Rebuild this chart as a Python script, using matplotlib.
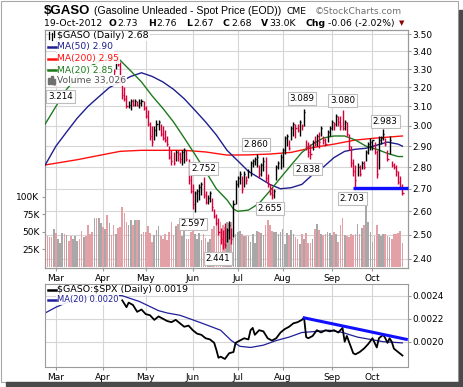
import numpy as np
import matplotlib
matplotlib.use("Agg")
import matplotlib.pyplot as plt
from matplotlib.patches import Rectangle
from matplotlib.lines import Line2D
from matplotlib.ticker import FixedLocator, NullLocator, FuncFormatter
from matplotlib.transforms import blended_transform_factory

W, H = 464, 387

# x axis = trading-day index, 0 = 1-Mar-2012, 162 = 19-Oct-2012
month_names = ['Mar', 'Apr', 'May', 'Jun', 'Jul', 'Aug', 'Sep', 'Oct']
month_start = [0, 22, 42, 64, 85, 106, 129, 148]

# lone early bar (the 3.214 low)
early_idx = -1
early_high, early_low, early_close = 3.235, 3.214, 3.22

# daily bars from index 27 to 162
first_bar = 27
bar_high = [3.30, 3.35, 3.38, 3.34, 3.24, 3.20, 3.16, 3.13, 3.14, 3.14, 3.14, 3.13, 3.14, 3.14,
            3.13, 3.10, 3.08, 3.02, 3.00, 3.00, 3.03, 3.03, 3.01, 3.00, 2.98, 2.95, 2.90, 2.88,
            2.87, 2.88, 2.88, 2.87, 2.88, 2.89, 2.88, 2.84, 2.77, 2.72, 2.69, 2.70, 2.72, 2.73,
            2.752, 2.69, 2.67, 2.69, 2.66, 2.61, 2.59, 2.57, 2.53, 2.52, 2.55, 2.53, 2.56, 2.53,
            2.65, 2.74, 2.76, 2.78, 2.76, 2.78, 2.76, 2.79, 2.83, 2.84, 2.85, 2.86, 2.81, 2.82,
            2.85, 2.85, 2.77, 2.72, 2.71, 2.70, 2.81, 2.83, 2.86, 2.89, 2.95, 2.96, 2.93, 3.00,
            3.02, 3.01, 3.01, 3.03, 3.01, 3.089, 2.93, 2.92, 2.91, 2.93, 2.95, 2.96, 2.97, 3.00,
            2.95, 2.94, 2.98, 3.00, 3.03, 3.02, 3.06, 3.05, 3.05, 3.080, 3.03, 3.02, 2.96, 2.90,
            2.84, 2.81, 2.82, 2.81, 2.83, 2.83, 2.88, 2.92, 2.94, 2.93, 2.92, 2.88, 2.95, 2.95,
            2.983, 2.94, 2.88, 2.95, 2.83, 2.82, 2.81, 2.78, 2.76, 2.72]
bar_low = [3.27, 3.30, 3.32, 3.22, 3.14, 3.13, 3.09, 3.09, 3.08, 3.10, 3.10, 3.10, 3.09, 3.10,
           3.08, 3.04, 3.00, 2.93, 2.90, 2.93, 2.95, 2.98, 2.95, 2.93, 2.92, 2.90, 2.84, 2.81,
           2.81, 2.83, 2.83, 2.82, 2.81, 2.82, 2.83, 2.72, 2.68, 2.61, 2.597, 2.64, 2.65, 2.67,
           2.66, 2.63, 2.63, 2.64, 2.60, 2.57, 2.54, 2.50, 2.46, 2.441, 2.445, 2.47, 2.48, 2.46,
           2.49, 2.63, 2.71, 2.72, 2.68, 2.71, 2.72, 2.75, 2.76, 2.80, 2.81, 2.80, 2.75, 2.76,
           2.78, 2.73, 2.71, 2.67, 2.655, 2.66, 2.74, 2.79, 2.79, 2.80, 2.86, 2.90, 2.88, 2.93,
           2.95, 2.94, 2.97, 2.95, 2.98, 3.00, 2.88, 2.85, 2.838, 2.88, 2.90, 2.90, 2.89, 2.95,
           2.91, 2.90, 2.92, 2.95, 2.98, 2.98, 3.00, 3.00, 2.98, 2.98, 2.98, 2.95, 2.88, 2.80,
           2.76, 2.703, 2.76, 2.76, 2.79, 2.79, 2.83, 2.86, 2.88, 2.88, 2.86, 2.75, 2.79, 2.91,
           2.93, 2.90, 2.83, 2.86, 2.80, 2.79, 2.76, 2.72, 2.70, 2.67]
bar_close = [3.29, 3.34, 3.33, 3.24, 3.16, 3.14, 3.10, 3.11, 3.13, 3.11, 3.13, 3.11, 3.12, 3.13,
             3.09, 3.05, 3.01, 2.95, 2.92, 2.98, 3.01, 3.02, 2.96, 2.94, 2.93, 2.91, 2.85, 2.83,
             2.82, 2.87, 2.86, 2.84, 2.87, 2.88, 2.84, 2.74, 2.69, 2.63, 2.68, 2.69, 2.71, 2.72,
             2.67, 2.64, 2.66, 2.68, 2.62, 2.58, 2.55, 2.51, 2.48, 2.46, 2.455, 2.52, 2.54, 2.48,
             2.63, 2.72, 2.75, 2.77, 2.70, 2.77, 2.74, 2.78, 2.82, 2.83, 2.84, 2.85, 2.77, 2.81,
             2.83, 2.75, 2.72, 2.68, 2.67, 2.69, 2.80, 2.82, 2.85, 2.88, 2.94, 2.95, 2.89, 2.99,
             3.01, 2.99, 2.98, 3.02, 3.00, 3.07, 2.90, 2.87, 2.86, 2.92, 2.91, 2.95, 2.92, 2.99,
             2.93, 2.91, 2.97, 2.99, 3.02, 3.01, 3.05, 3.02, 3.00, 2.99, 3.02, 2.96, 2.90, 2.82,
             2.78, 2.74, 2.80, 2.77, 2.82, 2.80, 2.87, 2.91, 2.92, 2.93, 2.87, 2.77, 2.93, 2.94,
             2.96, 2.91, 2.84, 2.93, 2.81, 2.80, 2.78, 2.73, 2.71, 2.68]

# moving averages
ma50_idx = [-5, 0, 5, 10, 15, 20, 25, 30, 35, 40, 45, 50, 55, 60, 65, 70, 75, 80, 85, 90,
            95, 100, 105, 110, 115, 120, 125, 130, 135, 140, 145, 150, 155, 160, 162]
ma50_val = [2.81, 2.90, 2.97, 3.04, 3.10, 3.15, 3.20, 3.23, 3.26, 3.28, 3.26, 3.23, 3.19, 3.14,
            3.08, 3.02, 2.955, 2.88, 2.83, 2.78, 2.75, 2.72, 2.70, 2.705, 2.72, 2.765, 2.80,
            2.845, 2.875, 2.885, 2.89, 2.905, 2.92, 2.91, 2.90]
ma200_idx = [-5, 10, 20, 30, 40, 50, 60, 70, 80, 90, 100, 110, 120, 130, 140, 150, 162]
ma200_val = [2.81, 2.835, 2.855, 2.875, 2.88, 2.88, 2.88, 2.872, 2.857, 2.858, 2.862, 2.87,
             2.893, 2.91, 2.93, 2.94, 2.95]
ma20_idx = [-5, 0, 5, 10, 15, 20, 25, 30, 35, 40, 45, 50, 55, 60, 65, 70, 75, 80, 83, 85, 90,
            95, 100, 105, 110, 115, 120, 125, 130, 135, 140, 145, 150, 155, 160, 162]
ma20_val = [3.01, 3.10, 3.19, 3.26, 3.31, 3.34, 3.36, 3.35, 3.29, 3.23, 3.155, 3.09, 3.02, 2.94,
            2.86, 2.78, 2.70, 2.65, 2.61, 2.60, 2.605, 2.635, 2.69, 2.75, 2.81, 2.87, 2.91, 2.94,
            2.95, 2.95, 2.93, 2.90, 2.885, 2.865, 2.85, 2.85]

# volume in thousands, index -5 to 162
vol_start = -5
volume = [45, 44, 42, 42, 53, 48, 40, 33, 48, 47, 45,
          37, 43, 39, 43, 37, 40, 51, 42, 44, 59, 47,
          50, 69, 69, 69, 62, 57, 53, 74, 62, 45, 59,
          47, 55, 57, 85, 76, 64, 59, 67, 59, 67, 66,
          67, 47, 50, 50, 58, 48, 35, 45, 52, 58, 44,
          39, 47, 38, 50, 63, 45, 58, 61, 59, 43, 55,
          39, 39, 50, 53, 47, 40, 48, 38, 47, 41, 35,
          39, 53, 58, 64, 62, 64, 60, 57, 64, 62,
          64, 52, 47, 50, 51, 47, 43, 44, 44, 35, 46,
          34, 51, 50, 48, 45, 59, 67, 59, 51, 49,
          50, 47, 50, 53, 32, 48, 45, 52, 47, 42, 40,
          32, 47, 39, 48, 34, 33, 40, 53, 61, 52,
          47, 45, 47, 50, 48, 45, 50, 47, 35, 59, 69,
          45, 43, 42, 47, 45, 47, 61, 47, 55, 59, 87,
          64, 50, 35, 43, 59, 47, 43, 47, 47, 43,
          42, 40, 47, 47, 48, 51, 34]
# up/down days for the volume bars before the price bars start (index -5 to 27)
early_vol_dir = "uddduduuududduuuddudddduduudududd"

# $GASO:$SPX ratio panel
ratio_idx = [31, 33, 34, 36, 38, 40, 42, 44, 46, 48, 50, 52, 54, 56, 58, 60, 62, 64, 66, 68,
             70, 72, 74, 75, 76, 77, 79, 81, 83, 84, 86, 88, 90, 91, 92, 93, 95, 97, 99, 101,
             103, 105, 107, 109, 111, 113, 115, 116, 117, 118, 120, 122, 124, 126, 128, 130,
             132, 134, 135, 136, 137, 139, 140, 142, 144, 146, 148, 149, 150, 151, 153, 154,
             155, 156, 157, 158, 160, 162]
ratio_val = [0.00236, 0.00230, 0.00234, 0.00232, 0.00226, 0.00228, 0.00224, 0.00223, 0.00219,
             0.00222, 0.00220, 0.00218, 0.00217, 0.00219, 0.00216, 0.00213, 0.00214, 0.00210,
             0.00207, 0.00206, 0.00203, 0.00202, 0.00199, 0.00193, 0.00186, 0.00187, 0.00185,
             0.00190, 0.00191, 0.00199, 0.00201, 0.00203, 0.00202, 0.00210, 0.00212, 0.00206,
             0.00210, 0.00209, 0.00203, 0.00201, 0.00203, 0.00208, 0.00211, 0.00213, 0.00216,
             0.00217, 0.00219, 0.00221, 0.00204, 0.00203, 0.00205, 0.00210, 0.00208, 0.00210,
             0.00209, 0.00210, 0.00208, 0.00212, 0.00200, 0.00205, 0.00200, 0.00190, 0.00189,
             0.00191, 0.00194, 0.00198, 0.00203, 0.00199, 0.00195, 0.00203, 0.00206, 0.00203,
             0.00199, 0.00203, 0.00200, 0.00194, 0.00191, 0.00188]
ratio_ma_idx = [-5, 0, 5, 10, 15, 20, 25, 31, 39, 48, 52, 58, 67, 77, 82, 86, 91, 97, 103,
                109, 115, 122, 128, 134, 141, 147, 153, 162]
ratio_ma_val = [0.00225, 0.00230, 0.00234, 0.00237, 0.00239, 0.00241, 0.00241, 0.00240,
                0.00235, 0.00227, 0.00225, 0.00223, 0.00217, 0.00210, 0.00201, 0.00196,
                0.00195, 0.00197, 0.00201, 0.00204, 0.00208, 0.00209, 0.00210, 0.00208,
                0.00204, 0.00202, 0.00200, 0.00199]

# hand-drawn lines on the chart
support_level = 2.703
support_from = 139
trend_idx = [115.4, 164.5]
trend_val = [0.00221, 0.002018]

# price annotations
label_idx = [-1, 69, 65, 78, 94, 101, 116, 119, 134, 140, 153]
label_price = [3.214, 2.752, 2.597, 2.441, 2.860, 2.655, 3.089, 2.838, 3.080, 2.703, 2.983]
label_offset = [(7, -12), (0, 9), (-2, -12), (-5, -10), (-1, 10), (-2, -10), (-2, 10),
                (-3, -10), (0, 10), (-3, -10), (2, 8)]

price_ticks = [2.40, 2.50, 2.60, 2.70, 2.80, 2.90, 3.00, 3.10, 3.20, 3.30, 3.40, 3.50]
vol_ticks = [25, 50, 75, 100]
ratio_ticks = [0.0020, 0.0022, 0.0024]

UP = '#000000'
DOWN = '#d8003a'
GRID = '#d6d6d6'
SPINE = '#9a9a9a'
XMIN, XMAX = -5.1, 164.6


def fx(x):
    return x / W


def fy(y):
    return 1 - y / H


fig = plt.figure(figsize=(W / 100, H / 100), dpi=100)
fig.patch.set_facecolor('white')

# ---------------- price + volume panel ----------------
rect = [fx(45), fy(268), 363 / W, 238 / H]
ax_v = fig.add_axes(rect)
ax = fig.add_axes(rect, sharex=ax_v)
ax.patch.set_visible(False)

ax.set_yscale('log')
ax.set_ylim(2.364, 3.524)
ax.set_xlim(XMIN, XMAX)
ax_v.set_ylim(-2.1, 338)

# grid (drawn on the volume axes so it stays behind the bars)
for m in month_start:
    ax_v.axvline(m, color=GRID, lw=0.8, zorder=0)
btrans = blended_transform_factory(ax_v.transAxes, ax.transData)
for p in price_ticks:
    ax_v.plot([0, 1], [p, p], transform=btrans, color=GRID, lw=0.8, zorder=0)

# volume bars
dirs = list(early_vol_dir)
for k in range(1, len(bar_close)):
    dirs.append('d' if bar_close[k] < bar_close[k - 1] else 'u')
vol_idx = np.arange(vol_start, vol_start + len(volume))
vol_cols = ['#e3a0a6' if d == 'd' else '#a8a8a8' for d in dirs]
ax_v.bar(vol_idx, volume, width=0.78, color=vol_cols, zorder=2)

# price bars
idx = np.arange(first_bar, first_bar + len(bar_close))
cols = [UP if dirs[first_bar - vol_start] == 'u' else DOWN]
for k in range(1, len(bar_close)):
    cols.append(DOWN if bar_close[k] < bar_close[k - 1] else UP)
ax.vlines(idx, bar_low, bar_high, colors=cols, lw=1.0, zorder=4)
ax.hlines(bar_close, idx, idx + 0.5, colors=cols, lw=1.0, zorder=4)
ax.vlines([early_idx], [early_low], [early_high], colors=DOWN, lw=1.0, zorder=4)
ax.hlines([early_close], [early_idx], [early_idx + 0.5], colors=DOWN, lw=1.0, zorder=4)

# moving averages
ax.plot(ma200_idx, ma200_val, color='#ff1010', lw=1.0, zorder=3)
ax.plot(ma50_idx, ma50_val, color='#1f1f8f', lw=1.0, zorder=3)
ax.plot(ma20_idx, ma20_val, color='#1d7a1d', lw=1.0, zorder=3)

# support line
ax.plot([support_from, XMAX], [support_level, support_level], color='#1010ff', lw=2.4,
        zorder=5, solid_capstyle='butt', clip_on=False)

# annotations
for i, p, off in zip(label_idx, label_price, label_offset):
    ax.annotate('%.3f' % p, xy=(i, p), xytext=off, textcoords='offset pixels',
                ha='center', va='center', fontsize=6.3, family='DejaVu Sans', zorder=7,
                bbox=dict(boxstyle='square,pad=0.22', fc='white', ec='#bdbdbd', lw=0.8))

# axes styling
ax.yaxis.set_major_locator(FixedLocator(price_ticks))
ax.yaxis.set_minor_locator(NullLocator())
ax.yaxis.set_major_formatter(FuncFormatter(lambda v, pos: '%.2f' % v))
ax.yaxis.tick_right()
ax.tick_params(axis='y', which='both', length=2, pad=1, labelsize=6.5, color=SPINE)
ax.tick_params(axis='x', which='both', bottom=False, labelbottom=False)

ax_v.yaxis.set_major_locator(FixedLocator(vol_ticks))
ax_v.yaxis.set_major_formatter(FuncFormatter(lambda v, pos: '%dK' % v))
ax_v.tick_params(axis='y', length=2, pad=2, labelsize=6.5, color=SPINE)
ax_v.xaxis.set_major_locator(FixedLocator(month_start))
ax_v.set_xticklabels(month_names)
ax_v.tick_params(axis='x', length=2, pad=2, labelsize=6.5, color=SPINE)

for a in (ax, ax_v):
    for s in a.spines.values():
        s.set_color(SPINE)
        s.set_linewidth(0.8)

# legend of the price panel
leg_box = dict(boxstyle='square,pad=0.1', fc='white', ec='none', alpha=0.9)
fig.text(fx(57), fy(36), r'\$GASO (Daily) 2.68', fontsize=6.8, va='center', ha='left',
         color='black', bbox=leg_box, zorder=10)
leg_items = [('MA(50) 2.90', '#1f1f8f', 47), ('MA(200) 2.95', '#ff1010', 58.5),
             ('MA(20) 2.85', '#1d7a1d', 70)]
for txt, c, yy in leg_items:
    fig.text(fx(57), fy(yy), txt, fontsize=6.6, va='center', ha='left', color=c,
             bbox=leg_box, zorder=10)
    fig.add_artist(Line2D([fx(48), fx(56)], [fy(yy), fy(yy)], color=c, lw=1.8, zorder=11))
fig.text(fx(57), fy(80.5), 'Volume 33,026', fontsize=6.6, va='center', ha='left',
         color='#555555', bbox=leg_box, zorder=10)
# small icons
for xx, y0, y1 in [(49, 32, 39), (52, 33, 40), (54, 31, 37)]:
    fig.add_artist(Line2D([fx(xx), fx(xx)], [fy(y0), fy(y1)], color='black', lw=0.9, zorder=11))
for xx, y0 in [(48.5, 78), (51, 76), (53.5, 79)]:
    fig.add_artist(Rectangle((fx(xx), fy(84)), 2 / W, (84 - y0) / H, transform=fig.transFigure,
                             color='#707070', zorder=11))

# ---------------- ratio panel ----------------
ax2 = fig.add_axes([fx(45), fy(367), 363 / W, 83 / H])
ax2.set_xlim(XMIN, XMAX)
ax2.set_ylim(0.00178, 0.002502)
for m in month_start:
    ax2.axvline(m, color=GRID, lw=0.8, zorder=0)
for t in ratio_ticks:
    ax2.axhline(t, color=GRID, lw=0.8, zorder=0)
ax2.plot(ratio_ma_idx, ratio_ma_val, color='#1f1f9a', lw=0.9, zorder=2)
ax2.plot(ratio_idx, ratio_val, color='black', lw=1.3, zorder=3)
ax2.plot(trend_idx, trend_val, color='#1010ff', lw=2.2, zorder=4, clip_on=False,
         solid_capstyle='butt')
ax2.yaxis.set_major_locator(FixedLocator(ratio_ticks))
ax2.yaxis.set_major_formatter(FuncFormatter(lambda v, pos: '%.4f' % v))
ax2.yaxis.tick_right()
ax2.tick_params(axis='y', length=2, pad=1, labelsize=6.5, color=SPINE)
ax2.xaxis.set_major_locator(FixedLocator(month_start))
ax2.set_xticklabels(month_names)
ax2.tick_params(axis='x', length=2, pad=2, labelsize=6.5, color=SPINE)
for s in ax2.spines.values():
    s.set_color(SPINE)
    s.set_linewidth(0.8)

fig.text(fx(57), fy(290), r'\$GASO:\$SPX (Daily) 0.0019', fontsize=6.8, va='center',
         ha='left', color='black', bbox=leg_box, zorder=10)
fig.add_artist(Line2D([fx(48), fx(56)], [fy(290), fy(290)], color='black', lw=1.8, zorder=11))
fig.text(fx(57), fy(299.5), 'MA(20) 0.0020', fontsize=6.0, va='center', ha='left',
         color='#1f1f9a', bbox=leg_box, zorder=10)
fig.add_artist(Line2D([fx(48), fx(56)], [fy(299.5), fy(299.5)], color='#1f1f9a', lw=1.8,
                      zorder=11))

# ---------------- header ----------------
fig.text(fx(44), fy(10.5), r'\$GASO', fontsize=9.5, fontweight='bold', family='Liberation Sans',
         va='center', ha='left')
fig.text(fx(94), fy(11), '(Gasoline Unleaded - Spot Price (EOD))', fontsize=7.6,
         family='Liberation Sans', va='center', ha='left')
fig.text(fx(287), fy(11), 'CME', fontsize=6.6, va='center', ha='left')
fig.text(fx(315), fy(11), '\u00a9StockCharts.com', fontsize=6.6, va='center', ha='left',
         color='#707070')

hdr = [(44, '19-Oct-2012', 'normal'), (109, 'O', 'bold'), (117, '2.73', 'normal'),
       (148, 'H', 'bold'), (156, '2.76', 'normal'), (186, 'L', 'bold'),
       (193, '2.67', 'normal'), (223, 'C', 'bold'), (231, '2.68', 'normal'),
       (261, 'V', 'bold'), (269, '33.0K', 'normal'), (305, 'Chg', 'bold'),
       (328, '-0.06 (-2.02%)', 'normal')]
for xx, txt, wt in hdr:
    fig.text(fx(xx), fy(23.5), txt, fontsize=6.7, fontweight=wt, va='center', ha='left')
fig.text(fx(402), fy(23), '\u25bc', fontsize=5, color='#8b0000', va='center', ha='center')

# ---------------- frame with drop shadow ----------------
fig.add_artist(Rectangle((fx(0.5), fy(381.5)), 458 / W, 381 / H, transform=fig.transFigure,
                         fill=False, ec='#a8a8a8', lw=0.8, zorder=0))
fig.add_artist(Rectangle((fx(459), fy(386)), 4 / W, 376 / H, transform=fig.transFigure,
                         color='#4a4a4a', zorder=0))
fig.add_artist(Rectangle((fx(6), fy(386)), 457 / W, 4 / H, transform=fig.transFigure,
                         color='#4a4a4a', zorder=0))

fig.savefig('out.png', dpi=100, facecolor='white')
